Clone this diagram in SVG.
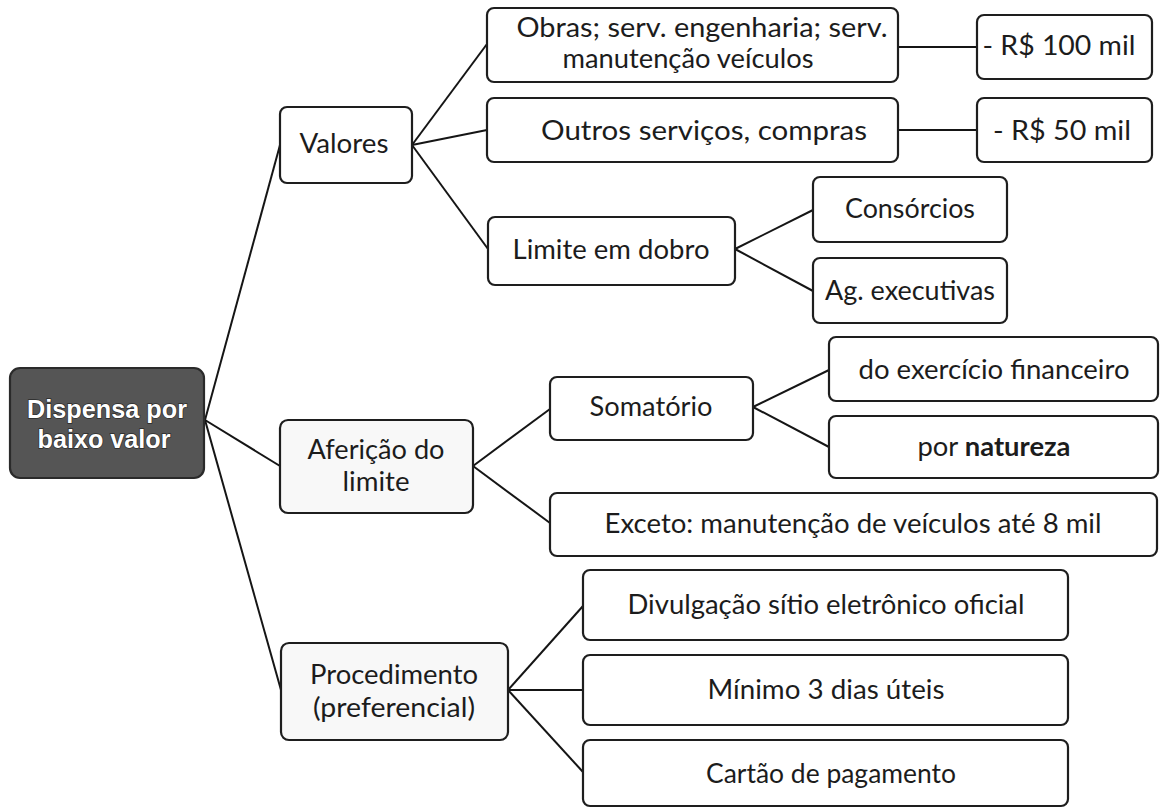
<svg xmlns="http://www.w3.org/2000/svg" width="1160" height="808" viewBox="0 0 1160 808">
<style>
.box{fill:#ffffff;stroke:#1e1e1e;stroke-width:2.2}
.soft{fill:#f8f8f8;stroke:#1e1e1e;stroke-width:2.2}
.root{fill:#555555;stroke:#2a2a2a;stroke-width:2.2}
.t{font-family:Lato,"Liberation Sans",sans-serif;font-size:27px;fill:#1c1c1c;text-anchor:middle}
.rt{font-family:"Liberation Sans",Arial,sans-serif;font-weight:bold;font-size:25px;fill:#ffffff;stroke:#2a2a2a;stroke-width:1.4;paint-order:stroke;text-anchor:middle}
.c{stroke:#151515;stroke-width:2;fill:none}
</style>
<g id="connectors">
<line class="c" x1="205" y1="420" x2="280" y2="145"/>
<line class="c" x1="205" y1="420" x2="280" y2="466"/>
<line class="c" x1="205" y1="420" x2="281" y2="690"/>
<line class="c" x1="412" y1="145" x2="487" y2="44"/>
<line class="c" x1="412" y1="145" x2="487" y2="130"/>
<line class="c" x1="412" y1="145" x2="488" y2="249"/>
<line class="c" x1="898" y1="47" x2="977" y2="47"/>
<line class="c" x1="898" y1="130" x2="977" y2="130"/>
<line class="c" x1="735" y1="249" x2="813" y2="210"/>
<line class="c" x1="735" y1="249" x2="813" y2="291"/>
<line class="c" x1="473" y1="466" x2="550" y2="409"/>
<line class="c" x1="473" y1="466" x2="550" y2="523"/>
<line class="c" x1="753" y1="407" x2="829" y2="370"/>
<line class="c" x1="753" y1="407" x2="829" y2="447"/>
<line class="c" x1="508" y1="690" x2="583" y2="606"/>
<line class="c" x1="508" y1="690" x2="583" y2="690"/>
<line class="c" x1="508" y1="690" x2="583" y2="772"/>
</g>
<g id="root">
<rect class="root" x="10" y="368" width="194" height="110" rx="10"/>
<text class="rt" x="107" y="418" textLength="160" lengthAdjust="spacingAndGlyphs">Dispensa por</text>
<text class="rt" x="104" y="448" textLength="133" lengthAdjust="spacingAndGlyphs">baixo valor</text>
</g>
<g id="valores">
<rect class="box" x="280" y="107" width="132" height="76" rx="7"/>
<text class="t" x="344" y="153" textLength="89" lengthAdjust="spacingAndGlyphs">Valores</text>
</g>
<g id="obras">
<rect class="box" x="487" y="8" width="411" height="74" rx="7"/>
<text class="t" x="702" y="37" textLength="371" lengthAdjust="spacingAndGlyphs">Obras; serv. engenharia; serv.</text>
<text class="t" x="688" y="68" textLength="251" lengthAdjust="spacingAndGlyphs">manutenção veículos</text>
</g>
<g id="outros">
<rect class="box" x="487" y="98" width="411" height="64" rx="7"/>
<text class="t" x="704" y="140" textLength="326" lengthAdjust="spacingAndGlyphs">Outros serviços, compras</text>
</g>
<g id="r100">
<rect class="box" x="977" y="15" width="175" height="64" rx="7"/>
<text class="t" x="1059" y="55" textLength="153" lengthAdjust="spacingAndGlyphs">- R$ 100 mil</text>
</g>
<g id="r50">
<rect class="box" x="977" y="98" width="175" height="64" rx="7"/>
<text class="t" x="1062" y="140" textLength="138" lengthAdjust="spacingAndGlyphs">- R$ 50 mil</text>
</g>
<g id="limite">
<rect class="box" x="488" y="217" width="247" height="68" rx="7"/>
<text class="t" x="611" y="259" textLength="197" lengthAdjust="spacingAndGlyphs">Limite em dobro</text>
</g>
<g id="consorcios">
<rect class="box" x="813" y="177" width="194" height="65" rx="7"/>
<text class="t" x="910" y="218" textLength="130" lengthAdjust="spacingAndGlyphs">Consórcios</text>
</g>
<g id="agencias">
<rect class="box" x="813" y="258" width="194" height="65" rx="7"/>
<text class="t" x="910" y="300" textLength="170" lengthAdjust="spacingAndGlyphs">Ag. executivas</text>
</g>
<g id="afericao">
<rect class="soft" x="280" y="420" width="193" height="93" rx="8"/>
<text class="t" x="376" y="459" textLength="137" lengthAdjust="spacingAndGlyphs">Aferição do</text>
<text class="t" x="376" y="491" textLength="67" lengthAdjust="spacingAndGlyphs">limite</text>
</g>
<g id="somatorio">
<rect class="box" x="550" y="377" width="203" height="63" rx="7"/>
<text class="t" x="651" y="416" textLength="123" lengthAdjust="spacingAndGlyphs">Somatório</text>
</g>
<g id="exercicio">
<rect class="box" x="829" y="337" width="329" height="64" rx="7"/>
<text class="t" x="994" y="379" textLength="271" lengthAdjust="spacingAndGlyphs">do exercício financeiro</text>
</g>
<g id="natureza">
<rect class="box" x="829" y="416" width="329" height="62" rx="7"/>
<text class="t" x="994" y="456" textLength="153" lengthAdjust="spacingAndGlyphs">por <tspan font-weight="bold">natureza</tspan></text>
</g>
<g id="exceto">
<rect class="box" x="550" y="493" width="607" height="63" rx="7"/>
<text class="t" x="853" y="533" textLength="497" lengthAdjust="spacingAndGlyphs">Exceto: manutenção de veículos até 8 mil</text>
</g>
<g id="procedimento">
<rect class="soft" x="281" y="643" width="227" height="97" rx="8"/>
<text class="t" x="394" y="684" textLength="168" lengthAdjust="spacingAndGlyphs">Procedimento</text>
<text class="t" x="394" y="717" textLength="162" lengthAdjust="spacingAndGlyphs">(preferencial)</text>
</g>
<g id="divulgacao">
<rect class="box" x="583" y="570" width="485" height="70" rx="7"/>
<text class="t" x="826" y="614" textLength="397" lengthAdjust="spacingAndGlyphs">Divulgação sítio eletrônico oficial</text>
</g>
<g id="minimo">
<rect class="box" x="583" y="655" width="485" height="70" rx="7"/>
<text class="t" x="826" y="699" textLength="237" lengthAdjust="spacingAndGlyphs">Mínimo 3 dias úteis</text>
</g>
<g id="cartao">
<rect class="box" x="583" y="740" width="485" height="66" rx="7"/>
<text class="t" x="831" y="783" textLength="250" lengthAdjust="spacingAndGlyphs">Cartão de pagamento</text>
</g>
</svg>
